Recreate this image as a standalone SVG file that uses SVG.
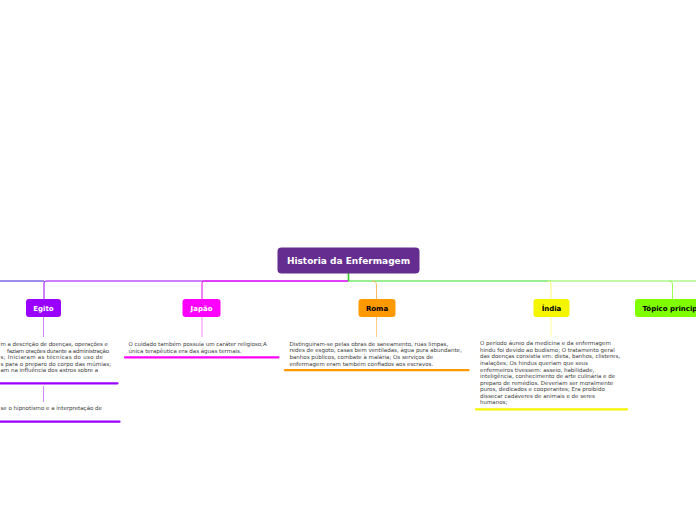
<svg xmlns="http://www.w3.org/2000/svg" width="696" height="520" viewBox="0 0 696 520">
<style>
.nt{font-family:"DejaVu Sans",Verdana,sans-serif;font-weight:bold;font-size:7px;text-anchor:middle}
.rt{font-family:"DejaVu Sans",Verdana,sans-serif;font-weight:bold;font-size:9px;text-anchor:middle;fill:#ffffff}
.bt{font-family:"DejaVu Sans",Verdana,sans-serif;font-size:5.5px;fill:#3a3a3a}
.c{fill:none;stroke-width:1}
.ul{stroke-width:2.2;stroke-linecap:round}
</style>
<rect width="696" height="520" fill="#ffffff"/>
<g id="connectors">
  <line x1="0" y1="281" x2="44" y2="281" stroke="#3a1ed6" class="c"/>
  <path d="M348,281 H46 Q44,281 44,283 V299" stroke="#9d00ff" class="c"/>
  <path d="M348,281 H204 Q202,281 202,283 V299" stroke="#ee00ee" class="c"/>
  <path d="M348,281 H551" stroke="#33dd22" class="c"/>
  <path d="M551,281 H696" stroke="#88f055" class="c"/>
  <path d="M372,281 Q376.5,281 376.5,285 V299" stroke="#ffbb66" class="c"/>
  <path d="M548,281 Q551,281 551,284 V299" stroke="#ffff77" class="c"/>
  <path d="M669,281 Q672.5,281 672.5,284 V299" stroke="#99ff55" class="c"/>
  <line x1="348.5" y1="273" x2="348.5" y2="281" stroke="#33cc22" stroke-width="1.6"/>
  <line x1="43.5" y1="317" x2="43.5" y2="337" stroke="#cc88ff" class="c"/>
  <line x1="43.5" y1="386" x2="43.5" y2="402" stroke="#cc88ff" class="c"/>
  <line x1="202" y1="317" x2="202" y2="337" stroke="#ff88ff" class="c"/>
  <line x1="376.5" y1="317" x2="376.5" y2="337" stroke="#ffcc88" class="c"/>
  <line x1="551" y1="317" x2="551" y2="337" stroke="#ffff99" class="c"/>
</g>
<g id="root">
  <rect x="277.5" y="247.5" width="142" height="26" rx="4" fill="#662d91"/>
  <text x="348.5" y="264" class="rt">Historia da Enfermagem</text>
</g>
<g id="egito">
  <rect x="26" y="299" width="35" height="18" rx="3" fill="#9900ff"/>
  <text x="43.5" y="310.5" class="nt" fill="#ffffff">Egito</text>
</g>
<g id="japao">
  <rect x="182.5" y="299" width="38" height="18" rx="3" fill="#ff00ff"/>
  <text x="201.5" y="310.5" class="nt" fill="#ffffff">Japão</text>
</g>
<g id="roma">
  <rect x="358.5" y="299" width="37" height="18" rx="3" fill="#ff9900"/>
  <text x="377" y="310.5" class="nt" fill="#000000">Roma</text>
</g>
<g id="india">
  <rect x="533.5" y="299" width="36" height="18" rx="3" fill="#f5f500"/>
  <text x="551.5" y="310.5" class="nt" fill="#000000">Índia</text>
</g>
<g id="topico">
  <rect x="635" y="299" width="78" height="18" rx="3" fill="#7fff00"/>
  <text x="642.5" y="310.5" class="nt" fill="#000000" style="text-anchor:start">Tópico principal</text>
</g>
<g id="egito-texto1">
  <text class="bt" x="0.5" y="346" textLength="107.5" lengthAdjust="spacing">m a descrição de doenças, operações e</text>
  <text class="bt" x="7" y="352.5" textLength="102" lengthAdjust="spacing">faziam orações durante a administração</text>
  <text class="bt" x="0.5" y="359" textLength="102.5" lengthAdjust="spacing">s; Iniciaram as técnicas do uso de</text>
  <text class="bt" x="0.5" y="365.5" textLength="110.5" lengthAdjust="spacing">s para o preparo do corpo das múmias;</text>
  <text class="bt" x="0.5" y="372" textLength="97.5" lengthAdjust="spacing">am na influência dos astros sobre a</text>
  <line x1="-5" y1="383.3" x2="117.5" y2="383.3" stroke="#9900ff" class="ul"/>
</g>
<g id="egito-texto2">
  <text class="bt" x="0.5" y="410" textLength="101.5" lengthAdjust="spacing">se o hipnotismo e a interpretação de</text>
  <line x1="-5" y1="421.7" x2="119.5" y2="421.7" stroke="#9900ff" class="ul"/>
</g>
<g id="japao-texto">
  <text class="bt">
    <tspan x="128.5" y="346">O cuidado também possuía um caráter religioso;A</tspan>
    <tspan x="128.5" y="352.5">única terapêutica era das águas termais.</tspan>
  </text>
  <line x1="125" y1="357.3" x2="278.5" y2="357.3" stroke="#ff00ff" class="ul"/>
</g>
<g id="roma-texto">
  <text class="bt">
    <tspan x="289.5" y="345.7">Distinguiram-se pelas obras de saneamento, ruas limpas,</tspan>
    <tspan x="289.5" y="352.3">redes de esgoto, casas bem ventiladas, água pura abundante,</tspan>
    <tspan x="289.5" y="358.9">banhos públicos, combate à malária; Os serviços de</tspan>
    <tspan x="289.5" y="365.5">enfermagem eram também confiados aos escravos.</tspan>
  </text>
  <line x1="285" y1="370.2" x2="468.5" y2="370.2" stroke="#ff9900" class="ul"/>
</g>
<g id="india-texto">
  <text class="bt">
    <tspan x="480" y="345.4">O período áureo da medicina e da enfermagem</tspan>
    <tspan x="480" y="351.9">hindu foi devido ao budismo; O tratamento geral</tspan>
    <tspan x="480" y="358.4">das doenças consistia em: dieta, banhos, clisteres,</tspan>
    <tspan x="480" y="365">inalações; Os hindus queriam que seus</tspan>
    <tspan x="480" y="371.5">enfermeiros tivessem: asseio, habilidade,</tspan>
    <tspan x="480" y="378">inteligência, conhecimento de arte culinária e de</tspan>
    <tspan x="480" y="384.5">preparo de remédios. Deveriam ser moralmente</tspan>
    <tspan x="480" y="391">puros, dedicados e cooperantes; Era proibido</tspan>
    <tspan x="480" y="397.5">dissecar cadáveres de animais e de seres</tspan>
    <tspan x="480" y="404">humanos;</tspan>
  </text>
  <line x1="476" y1="409.3" x2="627" y2="409.3" stroke="#f5f500" class="ul"/>
</g>
</svg>
